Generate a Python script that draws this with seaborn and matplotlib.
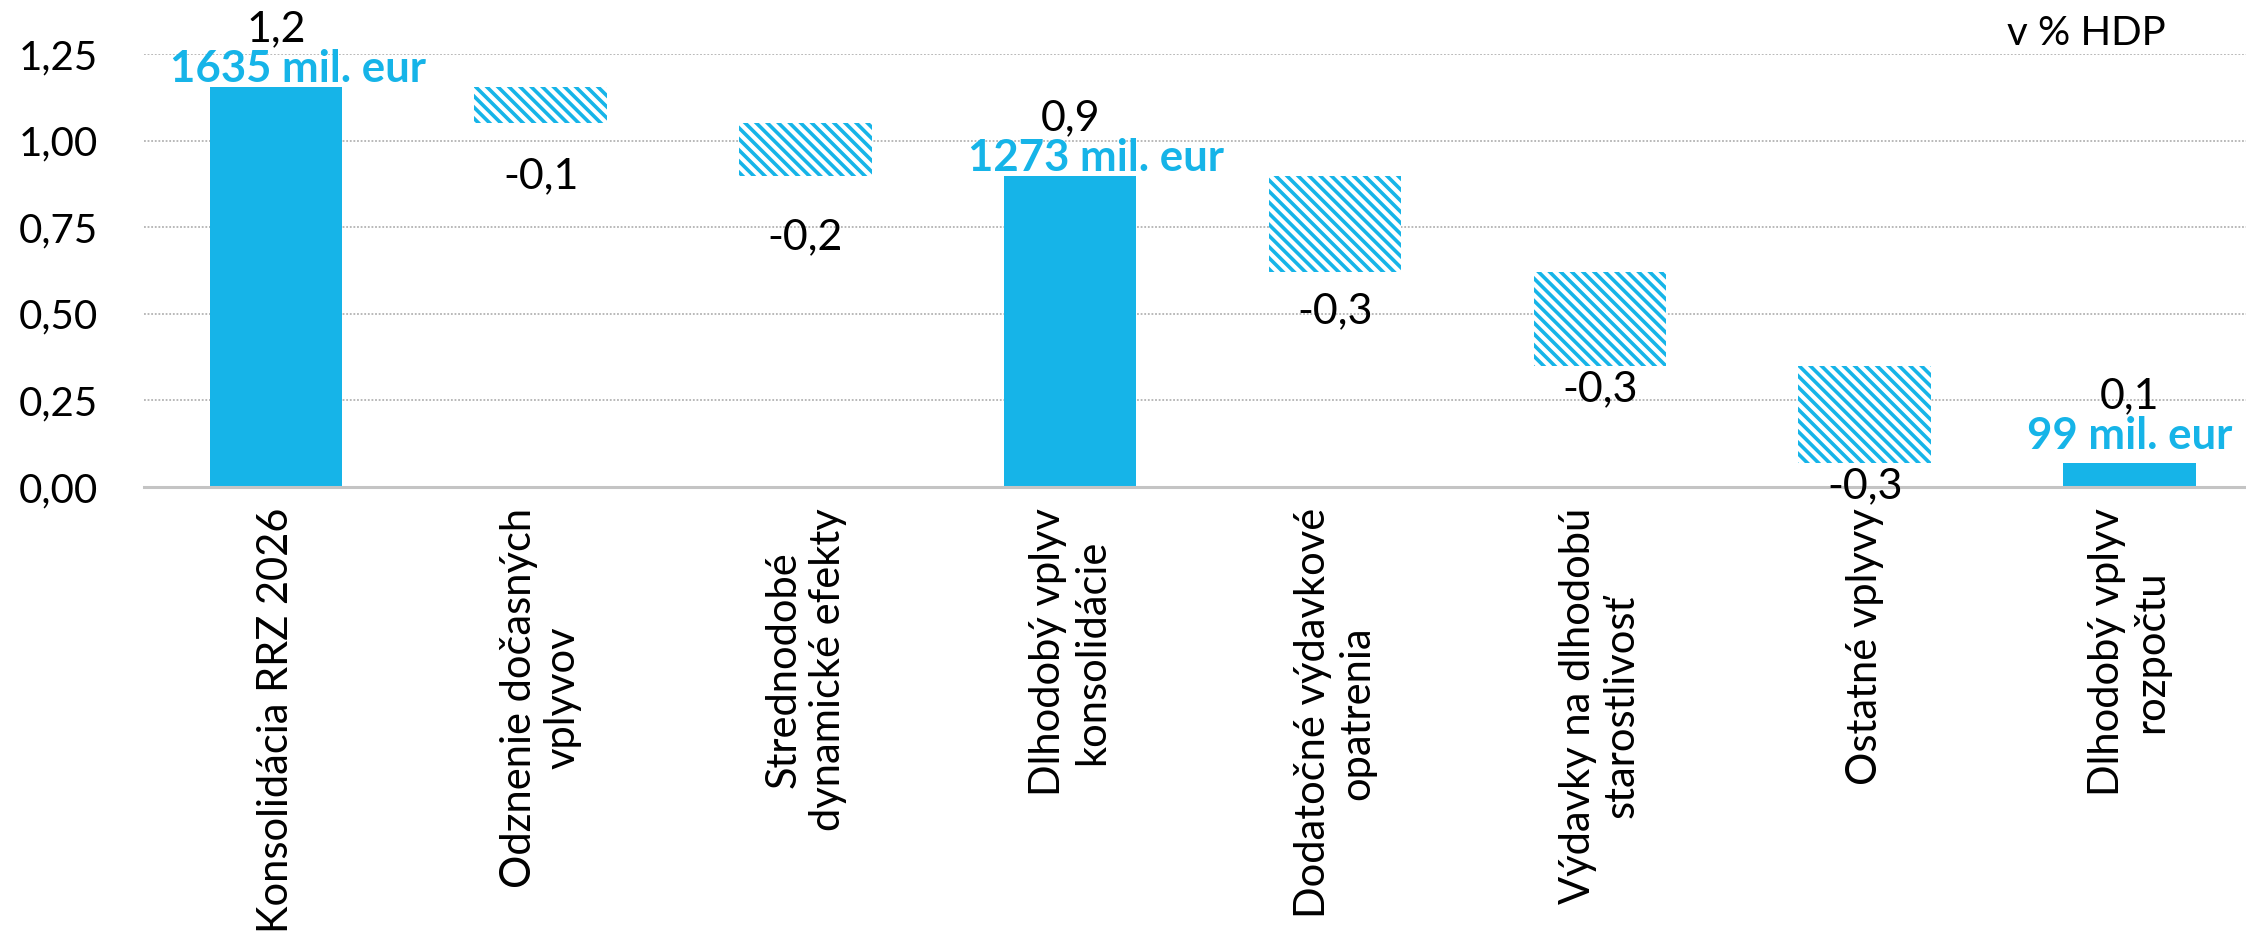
import numpy as np
import pandas as pd
import matplotlib
matplotlib.use("Agg")
import matplotlib.pyplot as plt
from matplotlib.ticker import FuncFormatter
import seaborn as sns

categories = [
    "Konsolidácia RRZ 2026",
    "Odznenie dočasných\nvplyvov",
    "Strednodobé\ndynamické efekty",
    "Dlhodobý vplyv\nkonsolidácie",
    "Dodatočné výdavkové\nopatrenia",
    "Výdavky na dlhodobú\nstarostlivosť",
    "Ostatné vplyvy",
    "Dlhodobý vplyv\nrozpočtu",
]
kinds = ["total", "change", "change", "total", "change", "change", "change", "total"]
values = [1.155, -0.104, -0.154, 0.898, -0.276, -0.272, -0.280, 0.070]
mil_eur = ["1635 mil. eur", None, None, "1273 mil. eur", None, None, None, "99 mil. eur"]
unit_note = "v % HDP"

# label tweaks (pixels)
cyan_dx = [22, 26, 0]
cyan_dy = [5, 5, 14]
black_dy = [46, 46, 55]
change_gap = [34, 42, 21, 4, 4]

CYAN = "#16b4e8"
HATCH = chr(92) * 3  # backslash hatch, dense

# waterfall levels
bottoms = []
level = 0.0
for k, v in zip(kinds, values):
    if k == "total":
        bottoms.append(0.0)
        level = v
    else:
        bottoms.append(level)
        level += v

df = pd.DataFrame({"cat": categories, "kind": kinds, "val": values, "bottom": bottoms})
tot = df[df.kind == "total"]
chg = df[df.kind == "change"]

sns.set_style("white")
plt.rcParams["font.family"] = ["Lato", "DejaVu Sans"]
plt.rcParams["hatch.linewidth"] = 2.6
plt.rcParams["text.color"] = "black"
plt.rcParams["xtick.color"] = "black"
plt.rcParams["ytick.color"] = "black"

fig = plt.figure(figsize=(22.46, 9.39), dpi=100)
ax = fig.add_axes([143.5 / 2246, 1 - 487 / 939, 1 - 143.5 / 2246, (487 - 54) / 939])

sns.barplot(data=tot, x="cat", y="val", order=categories, color=CYAN,
            width=0.5, linewidth=0, saturation=1, ax=ax, zorder=3)
sns.barplot(data=chg, x="cat", y="val", order=categories, width=0.5, color=CYAN,
            bottom=chg["bottom"].values, facecolor="white", edgecolor=CYAN,
            hatch=HATCH, linewidth=0, saturation=1, ax=ax, zorder=3)

def fmt(v):
    return f"{v:.1f}".replace(".", ",")

# labels on total bars
ti = 0
for i, (k, v, b) in enumerate(zip(kinds, values, bottoms)):
    if k == "total":
        ax.annotate(mil_eur[i], (i, v), xytext=(cyan_dx[ti], cyan_dy[ti]),
                    textcoords="offset pixels", ha="center", va="baseline",
                    color=CYAN, fontsize=31.5, fontweight="bold", annotation_clip=False, zorder=5)
        ax.annotate(fmt(v), (i, v), xytext=(0, black_dy[ti]),
                    textcoords="offset pixels", ha="center", va="baseline",
                    color="black", fontsize=31, annotation_clip=False, zorder=4)
        ti += 1

ci = 0
for i, (k, v, b) in enumerate(zip(kinds, values, bottoms)):
    if k == "change":
        ax.annotate(fmt(v), (i, b + v), xytext=(0, -change_gap[ci]),
                    textcoords="offset pixels", ha="center", va="top",
                    color="black", fontsize=31, annotation_clip=False, zorder=5)
        ci += 1

ax.text(0.962, 1.021, unit_note, transform=ax.transAxes, ha="right", va="baseline",
        fontsize=29)

ax.set_ylim(0, 1.25)
ax.set_xlim(-0.5, 7.44)
ax.set_yticks(np.arange(0, 1.26, 0.25))
ax.yaxis.set_major_formatter(FuncFormatter(lambda v, p: f"{v:.2f}".replace(".", ",")))
ax.yaxis.grid(True, linestyle=(0, (1, 1)), color="#b3b3b3", linewidth=1.3)
ax.set_axisbelow(True)
ax.set_xlabel("")
ax.set_ylabel("")
ax.set_xticks(range(len(categories)))
ax.set_xticklabels(categories, rotation=90, ha="center", va="top",
                   linespacing=1.2, fontsize=30)
ax.tick_params(axis="x", length=0, pad=15)
ax.tick_params(axis="y", length=0, pad=33, labelsize=29)

for s in ["top", "right", "left"]:
    ax.spines[s].set_visible(False)
ax.spines["bottom"].set_color("#c4c4c4")
ax.spines["bottom"].set_linewidth(2.2)
ax.spines["bottom"].set_zorder(4)

fig.savefig("out.png", dpi=100)
